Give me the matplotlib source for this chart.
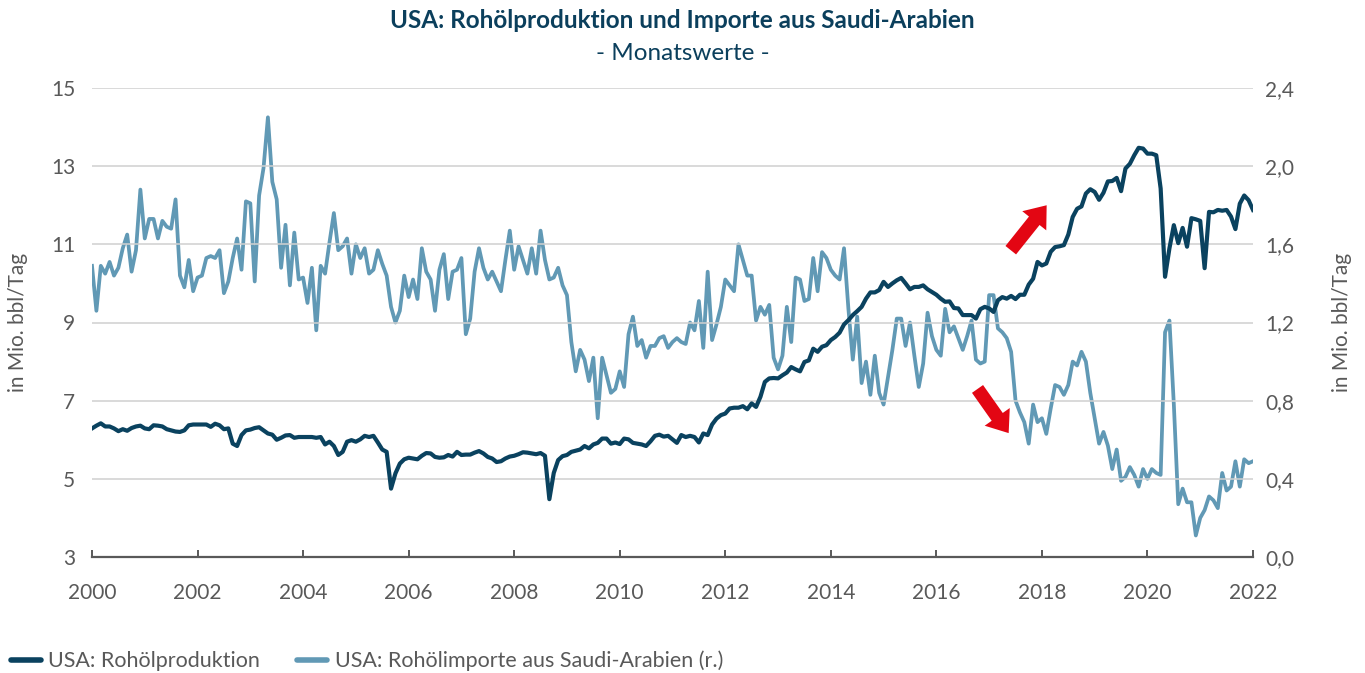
import numpy as np
import matplotlib
matplotlib.use("Agg")
import matplotlib.pyplot as plt
from matplotlib.lines import Line2D

# === Daten (Monatswerte, Jan 2000 - Jan 2022) ===
start_year = 2000

# USA: Rohölproduktion, Mio. bbl/Tag (linke Achse)
production = [
    6.29, 6.36, 6.42, 6.34, 6.34, 6.29, 6.22, 6.27, 6.23, 6.30, 6.34, 6.36,
    6.29, 6.27, 6.37, 6.36, 6.34, 6.27, 6.24, 6.21, 6.20, 6.24, 6.37, 6.39,
    6.39, 6.39, 6.39, 6.33, 6.41, 6.37, 6.27, 6.29, 5.90, 5.84, 6.12, 6.24,
    6.26, 6.30, 6.32, 6.24, 6.16, 6.13, 6.00, 6.05, 6.11, 6.12, 6.05, 6.07,
    6.07, 6.07, 6.07, 6.05, 6.07, 5.88, 5.95, 5.84, 5.61, 5.69, 5.95, 5.99,
    5.95, 6.01, 6.10, 6.07, 6.10, 5.93, 5.75, 5.69, 4.75, 5.14, 5.39, 5.50,
    5.54, 5.52, 5.50, 5.59, 5.66, 5.65, 5.56, 5.54, 5.55, 5.61, 5.57, 5.69,
    5.61, 5.62, 5.62, 5.67, 5.71, 5.65, 5.56, 5.52, 5.43, 5.45, 5.52, 5.57,
    5.59, 5.63, 5.68, 5.67, 5.65, 5.63, 5.66, 5.59, 4.48, 5.15, 5.48, 5.58,
    5.61, 5.69, 5.72, 5.75, 5.84, 5.78, 5.88, 5.92, 6.03, 6.03, 5.90, 5.93,
    5.89, 6.03, 6.01, 5.92, 5.90, 5.88, 5.84, 5.96, 6.10, 6.13, 6.08, 6.10,
    6.01, 5.92, 6.12, 6.07, 6.10, 6.07, 5.93, 6.16, 6.12, 6.39, 6.54, 6.63,
    6.67, 6.80, 6.82, 6.82, 6.86, 6.78, 6.93, 6.84, 7.10, 7.48, 7.57, 7.58,
    7.57, 7.65, 7.72, 7.86, 7.80, 7.75, 7.99, 8.03, 8.33, 8.25, 8.38, 8.42,
    8.55, 8.63, 8.74, 8.95, 9.06, 9.19, 9.29, 9.40, 9.61, 9.77, 9.77, 9.83,
    10.04, 9.91, 10.00, 10.08, 10.14, 10.00, 9.85, 9.91, 9.91, 9.95, 9.85, 9.78,
    9.71, 9.61, 9.53, 9.54, 9.37, 9.36, 9.19, 9.19, 9.19, 9.10, 9.34, 9.40,
    9.36, 9.27, 9.57, 9.65, 9.61, 9.68, 9.60, 9.71, 9.71, 9.97, 10.12, 10.55,
    10.46, 10.51, 10.81, 10.93, 10.95, 10.98, 11.25, 11.70, 11.91, 11.97, 12.30, 12.41,
    12.34, 12.14, 12.32, 12.61, 12.62, 12.70, 12.36, 12.94, 13.06, 13.28, 13.47, 13.45,
    13.32, 13.32, 13.28, 12.43, 10.17, 10.90, 11.49, 11.03, 11.42, 10.94, 11.67, 11.64,
    11.60, 10.39, 11.83, 11.82, 11.88, 11.86, 11.88, 11.71, 11.39, 12.04, 12.25, 12.13,
    11.88,
]

# USA: Rohölimporte aus Saudi-Arabien, Mio. bbl/Tag (rechte Achse)
imports_sa = [
    1.49, 1.26, 1.49, 1.45, 1.51, 1.44, 1.48, 1.58, 1.65, 1.46, 1.57, 1.88,
    1.63, 1.73, 1.73, 1.63, 1.72, 1.69, 1.68, 1.83, 1.44, 1.38, 1.52, 1.36,
    1.43, 1.44, 1.53, 1.54, 1.53, 1.57, 1.35, 1.41, 1.53, 1.63, 1.47, 1.82,
    1.81, 1.41, 1.85, 1.99, 2.25, 1.92, 1.83, 1.48, 1.70, 1.39, 1.66, 1.42,
    1.43, 1.30, 1.48, 1.16, 1.49, 1.45, 1.61, 1.76, 1.57, 1.59, 1.63, 1.45,
    1.60, 1.53, 1.58, 1.45, 1.47, 1.57, 1.50, 1.44, 1.28, 1.20, 1.26, 1.44,
    1.33, 1.42, 1.32, 1.58, 1.46, 1.42, 1.26, 1.47, 1.55, 1.32, 1.46, 1.47,
    1.53, 1.14, 1.22, 1.46, 1.58, 1.48, 1.42, 1.46, 1.41, 1.36, 1.52, 1.67,
    1.47, 1.59, 1.52, 1.45, 1.58, 1.45, 1.67, 1.52, 1.42, 1.43, 1.48, 1.39,
    1.34, 1.10, 0.95, 1.06, 1.01, 0.90, 1.02, 0.71, 1.02, 0.93, 0.84, 0.86,
    0.95, 0.87, 1.14, 1.23, 1.08, 1.11, 1.02, 1.08, 1.08, 1.12, 1.13, 1.07,
    1.10, 1.12, 1.10, 1.09, 1.20, 1.16, 1.31, 1.07, 1.46, 1.11, 1.19, 1.28,
    1.42, 1.39, 1.36, 1.60, 1.52, 1.44, 1.44, 1.21, 1.28, 1.24, 1.29, 1.02,
    0.96, 1.03, 1.28, 1.10, 1.43, 1.42, 1.31, 1.32, 1.53, 1.36, 1.56, 1.53,
    1.47, 1.44, 1.42, 1.58, 1.27, 1.01, 1.23, 0.89, 1.00, 0.83, 1.03, 0.84,
    0.78, 0.92, 1.06, 1.22, 1.22, 1.08, 1.20, 1.03, 0.87, 0.99, 1.25, 1.13,
    1.06, 1.03, 1.27, 1.15, 1.18, 1.12, 1.06, 1.13, 1.21, 1.01, 0.99, 1.00,
    1.34, 1.34, 1.17, 1.15, 1.12, 1.05, 0.80, 0.74, 0.69, 0.58, 0.78, 0.69,
    0.71, 0.63, 0.76, 0.88, 0.87, 0.83, 0.88, 1.00, 0.98, 1.05, 1.00, 0.84,
    0.71, 0.58, 0.64, 0.57, 0.45, 0.55, 0.39, 0.41, 0.46, 0.42, 0.36, 0.45,
    0.40, 0.45, 0.43, 0.42, 1.15, 1.21, 0.78, 0.27, 0.35, 0.28, 0.28, 0.11,
    0.20, 0.24, 0.31, 0.29, 0.25, 0.43, 0.34, 0.36, 0.49, 0.36, 0.50, 0.48,
    0.49,
]

year_ticks = list(range(2000, 2023, 2))
left_ticks = [3, 5, 7, 9, 11, 13, 15]
right_ticks = [0.0, 0.4, 0.8, 1.2, 1.6, 2.0, 2.4]

title = "USA: Rohölproduktion und Importe aus Saudi-Arabien"
subtitle = "- Monatswerte -"
label_prod = "USA: Rohölproduktion"
label_imp = "USA: Rohölimporte aus Saudi-Arabien (r.)"
axis_label = "in Mio. bbl/Tag"

# === Stil ===
plt.rcParams['font.family'] = ['Lato', 'DejaVu Sans']
c_dark = '#0a425f'
c_light = '#6199b5'
c_text = '#595959'
c_title = '#0b3f5c'
c_red = '#e30613'

x = start_year + np.arange(len(production)) / 12.0

fig = plt.figure(figsize=(13.65, 6.73), dpi=100)
ax = fig.add_axes([92 / 1365, 1 - 557 / 673, (1253 - 92) / 1365, (557 - 88) / 673])
ax2 = ax.twinx()

# Gitterlinien
for v in left_ticks[1:]:
    ax.axhline(v, color='#d0d0d0', lw=1.1, zorder=0)

ax2.plot(x, imports_sa, color=c_light, lw=2.7, solid_joinstyle='round')
ax.plot(x, production, color=c_dark, lw=3.0, solid_joinstyle='round')
ax.set_zorder(ax2.get_zorder() + 1)
ax.patch.set_visible(False)

ax.set_xlim(2000, 2022)
ax.set_ylim(3, 15)
ax2.set_ylim(0, 2.4)

ax.set_xticks(year_ticks)
ax.set_xticklabels([str(y) for y in year_ticks])
ax.set_yticks(left_ticks)
ax.set_yticklabels([str(v) for v in left_ticks])
ax2.set_yticks(right_ticks)
ax2.set_yticklabels([f"{v:.1f}".replace('.', ',') for v in right_ticks])

for a in (ax, ax2):
    for s in ('top', 'left', 'right', 'bottom'):
        a.spines[s].set_visible(False)
ax.spines['bottom'].set_visible(True)
ax.spines['bottom'].set_color(c_text)
ax.spines['bottom'].set_linewidth(1.6)

ax.tick_params(axis='x', direction='in', length=5, width=1.4, color=c_text,
               labelsize=15, labelcolor=c_text, pad=19)
ax.tick_params(axis='y', length=0, labelsize=15, labelcolor=c_text, pad=12)
ax2.tick_params(axis='y', length=0, labelsize=15, labelcolor=c_text, pad=9)

fig.text(18 / 1365, 1 - 322 / 673, axis_label, rotation=90, ha='center', va='center',
         fontsize=15, color=c_text)
fig.text(1342 / 1365, 1 - 322 / 673, axis_label, rotation=90, ha='center', va='center',
         fontsize=15, color=c_text)

# Titel
fig.text(0.5, 1 - 20 / 673, title, ha='center', va='center', fontsize=17.5,
         fontweight='bold', color=c_title)
fig.text(0.5, 1 - 53 / 673, subtitle, ha='center', va='center', fontsize=17.5,
         color=c_title)

# rote Pfeile
arrow_style = 'simple,head_length=1.1,head_width=1.7,tail_width=0.75'
ax.annotate('', xy=(2018.09, 12.0), xytext=(2017.41, 10.85),
            arrowprops=dict(arrowstyle=arrow_style, color=c_red, mutation_scale=13,
                            shrinkA=0, shrinkB=0, lw=0), zorder=5)
ax.annotate('', xy=(2017.37, 6.17), xytext=(2016.78, 7.3),
            arrowprops=dict(arrowstyle=arrow_style, color=c_red, mutation_scale=13,
                            shrinkA=0, shrinkB=0, lw=0), zorder=5)

# Legende
handles = [Line2D([0], [0], color=c_dark, lw=4, solid_capstyle='round'),
           Line2D([0], [0], color=c_light, lw=4, solid_capstyle='round')]
fig.legend(handles, [label_prod, label_imp], loc='center left',
           bbox_to_anchor=(0.0, 1 - 661 / 673), ncol=2, frameon=False,
           fontsize=15.5, labelcolor=c_text, handlelength=1.4, handletextpad=0.35,
           columnspacing=1.7, borderaxespad=0.1)

fig.savefig('out.png', dpi=100)
